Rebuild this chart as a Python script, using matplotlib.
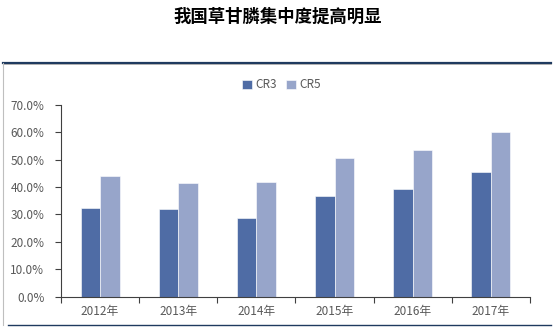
import matplotlib.pyplot as plt
from matplotlib.lines import Line2D
import numpy as np

plt.rcParams['font.family'] = ['Noto Sans CJK SC', 'DejaVu Sans']

years = ["2012年", "2013年", "2014年", "2015年", "2016年", "2017年"]
cr3 = [32.5, 32.0, 28.8, 36.9, 39.3, 45.6]
cr5 = [44.2, 41.5, 41.7, 50.6, 53.6, 60.0]

c3 = "#4f6ca5"
c5 = "#97a5ca"
grey = "#595959"

fig = plt.figure(figsize=(5.56, 3.29), dpi=100)
ax = fig.add_axes([61 / 556, 32.5 / 329, 469 / 556, 191.5 / 329])

x = np.arange(len(years))
w = 0.25
ax.bar(x - w / 2, cr3, w, color=c3, edgecolor="white", linewidth=0.4, label="CR3")
ax.bar(x + w / 2, cr5, w, color=c5, edgecolor="white", linewidth=0.4, label="CR5")

ax.set_xlim(-0.5, len(years) - 0.5)
ax.set_ylim(0, 70)
ax.set_yticks(range(0, 71, 10))
ax.set_yticklabels([f"{v:.1f}%" for v in range(0, 71, 10)])
ax.set_xticks(x)
ax.set_xticklabels(years)
ax.set_xticks(np.arange(-0.5, len(years)), minor=True)
ax.tick_params(axis="x", which="major", length=0, pad=6, labelsize=8.5, labelcolor=grey)
ax.tick_params(axis="x", which="minor", length=4, color="#404040", width=0.8)
ax.tick_params(axis="y", length=4, color="#404040", width=0.8, labelsize=8.5, labelcolor=grey, pad=8)

for s in ["top", "right"]:
    ax.spines[s].set_visible(False)
for s in ["left", "bottom"]:
    ax.spines[s].set_color("#404040")
    ax.spines[s].set_linewidth(0.8)

ax.legend(loc="upper center", bbox_to_anchor=(0.47, 1.195), ncol=2, frameon=False,
          fontsize=8.5, handlelength=0.8, handleheight=0.8, handletextpad=0.3,
          columnspacing=0.8, labelcolor=grey)

fig.text(0.5, 1 - 17 / 329, "我国草甘膦集中度提高明显", ha="center", va="center",
         fontsize=12.5, fontweight="bold", color="black")

# frame around the chart area
fig.add_artist(Line2D([3 / 556, 551 / 556], [1 - 63 / 329] * 2, color="#1f3a5f", lw=1.6))
fig.add_artist(Line2D([3 / 556, 551 / 556], [1 - 64 / 329] * 2, color="#a6a6a6", lw=0.6))
fig.add_artist(Line2D([8 / 556, 551 / 556], [1 - 325 / 329] * 2, color="#1f3a5f", lw=1.0))
fig.add_artist(Line2D([3 / 556, 3 / 556], [1 - 63 / 329, 1 - 325 / 329], color="#bfbfbf", lw=0.8))

fig.savefig("out.png", dpi=100)
